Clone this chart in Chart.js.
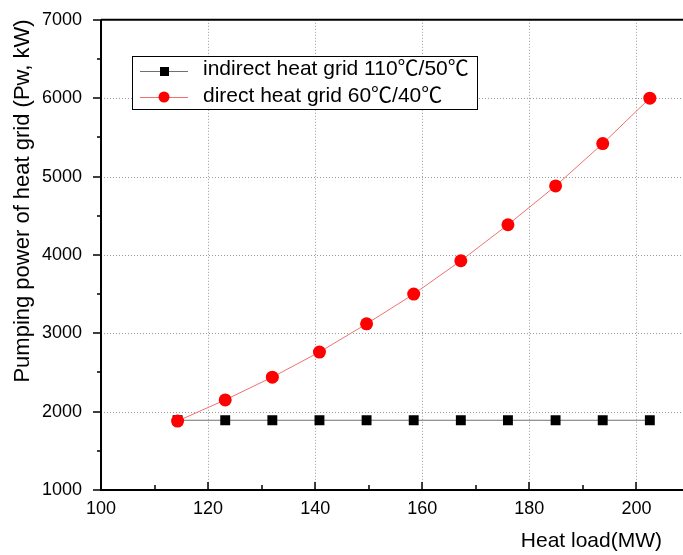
<!DOCTYPE html>
<html>
<head>
<meta charset="utf-8">
<script src="https://cdn.jsdelivr.net/npm/chart.js@4/dist/chart.umd.min.js"></script>
<style>
  html, body { margin:0; padding:0; background:#fff; overflow:hidden; }
  #wrap { width:700px; height:565px; margin-top:-10px; position:relative; }
</style>
</head>
<body>
<div id="wrap"><canvas id="c"></canvas></div>
<script>
// heat load (MW) on the x axis
const heatLoad = [114.3, 123.2, 132.0, 140.8, 149.6, 158.4, 167.2, 176.0, 184.9, 193.7, 202.5];
// pumping power (kW)
const indirectPower = [1890, 1890, 1890, 1890, 1890, 1890, 1890, 1890, 1890, 1890, 1890];
const directPower = [1880, 2150, 2440, 2760, 3120, 3500, 3925, 4385, 4880, 5420, 6000];
const seriesNames = ['indirect heat grid 110\u2103/50\u2103', 'direct heat grid 60\u2103/40\u2103'];
const xTitle = 'Heat load(MW)';
const yTitle = 'Pumping power of heat grid (Pw, kW)';

const FONT = '"Liberation Sans", Arial, sans-serif';
const CJK = '"Noto Sans CJK SC", sans-serif';
const OFF = 10; // canvas is shifted up by this much

const pts = (ys) => heatLoad.map((x, i) => ({ x: x, y: ys[i] }));

// dotted grid at the major ticks, under the data
const dottedGrid = {
    id: 'dottedGrid',
    beforeDatasetsDraw(chart) {
        const ctx = chart.ctx;
        const a = chart.chartArea;
        const sx = chart.scales.x, sy = chart.scales.y;
        ctx.save();
        ctx.strokeStyle = '#9a9a9a';
        ctx.lineWidth = 1;
        ctx.setLineDash([1, 2]);
        ctx.beginPath();
        for (let v = 120; v <= 200; v += 20) {
            const px = Math.round(sx.getPixelForValue(v)) + 0.5;
            ctx.moveTo(px, a.top); ctx.lineTo(px, a.bottom);
        }
        for (let v = 2000; v <= 6000; v += 1000) {
            const py = Math.round(sy.getPixelForValue(v)) + 0.5;
            ctx.moveTo(a.left, py); ctx.lineTo(a.right, py);
        }
        ctx.stroke();
        ctx.restore();
    }
};

// text with the degree sign taken from the CJK font (full width, as in the original)
function mixedText(ctx, str, x, y, size) {
    const parts = str.split(/(\u2103)/);
    ctx.textBaseline = 'alphabetic';
    parts.forEach((p) => {
        if (!p) return;
        ctx.font = size + 'px ' + (p === '\u2103' ? CJK : FONT);
        ctx.fillText(p, x, y);
        x += ctx.measureText(p).width;
    });
}

// axes, inward x ticks / outward y ticks, top frame, legend box, titles
const decor = {
    id: 'decor',
    afterDraw(chart) {
        const ctx = chart.ctx;
        const a = chart.chartArea;
        const sx = chart.scales.x, sy = chart.scales.y;
        ctx.save();
        ctx.strokeStyle = '#000';
        ctx.lineWidth = 2;
        ctx.beginPath();
        ctx.moveTo(a.left, a.top); ctx.lineTo(a.right, a.top);
        ctx.moveTo(a.left, a.top); ctx.lineTo(a.left, a.bottom);
        ctx.moveTo(a.left - 1, a.bottom); ctx.lineTo(a.right, a.bottom);
        ctx.stroke();

        ctx.lineWidth = 1.5;
        ctx.beginPath();
        for (let v = 110; v <= 210; v += 10) {
            const px = Math.round(sx.getPixelForValue(v));
            const len = v % 20 === 0 ? 8 : 5;
            ctx.moveTo(px, a.bottom); ctx.lineTo(px, a.bottom - len);
        }
        for (let v = 1000; v <= 7000; v += 500) {
            const py = Math.round(sy.getPixelForValue(v));
            const len = v % 1000 === 0 ? 8 : 4;
            ctx.moveTo(a.left, py); ctx.lineTo(a.left - len, py);
        }
        ctx.stroke();

        // titles
        ctx.fillStyle = '#000';
        ctx.font = '21px ' + FONT;
        ctx.textAlign = 'right';
        ctx.textBaseline = 'middle';
        ctx.fillText(xTitle, 662, 541 + OFF);
        ctx.save();
        ctx.translate(23, 201 + OFF);
        ctx.rotate(-Math.PI / 2);
        ctx.textAlign = 'center';
        ctx.font = '22px ' + FONT;
        ctx.fillText(yTitle, 0, 0);
        ctx.restore();

        // legend
        const bx = 132, by = 56 + OFF, bw = 345, bh = 53;
        ctx.fillStyle = '#fff';
        ctx.fillRect(bx, by, bw, bh);
        ctx.strokeStyle = '#000';
        ctx.lineWidth = 1;
        ctx.strokeRect(bx + 0.5, by + 0.5, bw, bh);
        const rows = [71 + OFF, 97 + OFF];
        const baselines = [75 + OFF, 102 + OFF];
        chart.data.datasets.forEach((ds, i) => {
            const y = rows[i];
            ctx.strokeStyle = ds.borderColor;
            ctx.lineWidth = 1;
            ctx.beginPath();
            ctx.moveTo(140, y + 0.5); ctx.lineTo(188, y + 0.5);
            ctx.stroke();
            ctx.fillStyle = ds.pointBackgroundColor;
            if (ds.pointStyle === 'rect') {
                ctx.fillRect(160, y - 4, 9, 9);
            } else {
                ctx.beginPath();
                ctx.arc(164, y, 5.5, 0, Math.PI * 2);
                ctx.fill();
            }
            ctx.fillStyle = '#000';
            ctx.textAlign = 'left';
            mixedText(ctx, ds.label, 203, baselines[i], 21);
        });
        ctx.restore();
    }
};

new Chart(document.getElementById('c'), {
    type: 'line',
    data: {
        datasets: [
            {
                label: seriesNames[0],
                data: pts(indirectPower),
                borderColor: '#707070',
                borderWidth: 1,
                pointStyle: 'rect',
                pointRadius: 7,
                pointBackgroundColor: '#000',
                pointBorderColor: '#000',
                pointBorderWidth: 0,
                order: 2
            },
            {
                label: seriesNames[1],
                data: pts(directPower),
                borderColor: '#f07070',
                borderWidth: 1,
                pointStyle: 'circle',
                pointRadius: 6.5,
                pointBackgroundColor: '#ff0000',
                pointBorderColor: '#ff0000',
                pointBorderWidth: 0,
                order: 1
            }
        ]
    },
    options: {
        responsive: true,
        maintainAspectRatio: false,
        animation: false,
        layout: { padding: { top: 10, right: 10, left: 0, bottom: 0 } },
        plugins: { legend: { display: false }, tooltip: { enabled: false } },
        scales: {
            x: {
                type: 'linear',
                min: 100, max: 210,
                afterFit: (s) => { s.height = 65; },
                ticks: {
                    stepSize: 10,
                    autoSkip: false,
                    maxRotation: 0,
                    padding: 8,
                    color: '#000',
                    font: { family: FONT, size: 18 },
                    callback: (v) => (v % 20 === 0 && v <= 200) ? v : ''
                },
                grid: { display: false, drawTicks: false },
                border: { display: false }
            },
            y: {
                min: 1000, max: 7000,
                afterFit: (s) => { s.width = 101; },
                ticks: {
                    stepSize: 500,
                    autoSkip: false,
                    padding: 19,
                    color: '#000',
                    font: { family: FONT, size: 18 },
                    callback: (v) => v % 1000 === 0 ? v : ''
                },
                grid: { display: false, drawTicks: false },
                border: { display: false }
            }
        }
    },
    plugins: [dottedGrid, decor]
});
</script>
</body>
</html>
